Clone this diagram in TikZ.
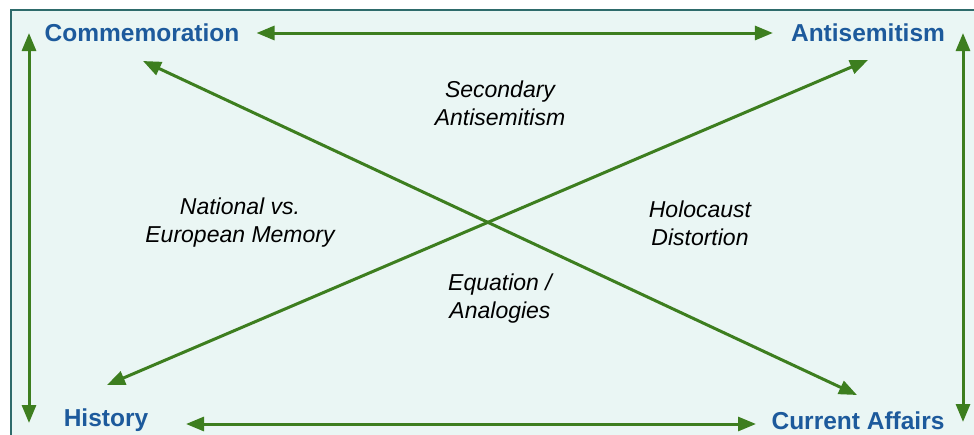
\documentclass[tikz,border=0pt]{standalone}
\usepackage{fontspec}
\setmainfont{Liberation Sans}
\usetikzlibrary{arrows.meta}
\definecolor{bgfill}{HTML}{EAF6F4}
\definecolor{bgline}{HTML}{2E6B6B}
\definecolor{headblue}{HTML}{1D5A9C}
\definecolor{arrgreen}{HTML}{3D7E1F}
\tikzset{
  head/.style={font=\fontsize{24.5}{28}\selectfont\bfseries, text=headblue, inner sep=0pt, anchor=base},
  lbl/.style={font=\fontsize{23}{28}\selectfont\itshape, text=black, align=center, inner sep=0pt},
  link/.style={draw=arrgreen, line width=3pt, {Triangle[length=18pt,width=14pt]}-{Triangle[length=18pt,width=14pt]}},
}
\begin{document}
\begin{tikzpicture}[x=1pt,y=-1pt]
\useasboundingbox (0,0) rectangle (974,434);
\draw[bgline, fill=bgfill, line width=2pt] (11,10) rectangle (1000,460);

\node[head] (comm) at (142,41) {Commemoration};
\node[head] (anti) at (868,41) {Antisemitism};
\node[head] (hist) at (106,426) {History};
\node[head] (cur)  at (858,429.5) {Current Affairs};

\node[lbl] (sec) at (500,103) {Secondary\\Antisemitism};
\node[lbl] (nat) at (240,223) {National vs.\\European Memory};
\node[lbl] (hol) at (700,223) {Holocaust\\Distortion};
\node[lbl] (equ) at (500,299) {Equation /\\Analogies};

\coordinate (lt) at (29,33);
\coordinate (lb) at (29,423);
\coordinate (rt) at (963,33);
\coordinate (rb) at (963,422);
\coordinate (d1a) at (143,61);
\coordinate (d1b) at (857,395);
\coordinate (d2a) at (107,385);
\coordinate (d2b) at (868,60);

\draw[link, shorten <=17pt, shorten >=18pt] (comm.east |- 0,33) -- (anti.west |- 0,33);
\draw[link] (186,424) coordinate (hb) -- (756,424) coordinate (cb);
\draw[link] (lt) -- (lb);
\draw[link] (rt) -- (rb);
\draw[link] (d1a) -- (d1b);
\draw[link] (d2a) -- (d2b);
\end{tikzpicture}
\end{document}
